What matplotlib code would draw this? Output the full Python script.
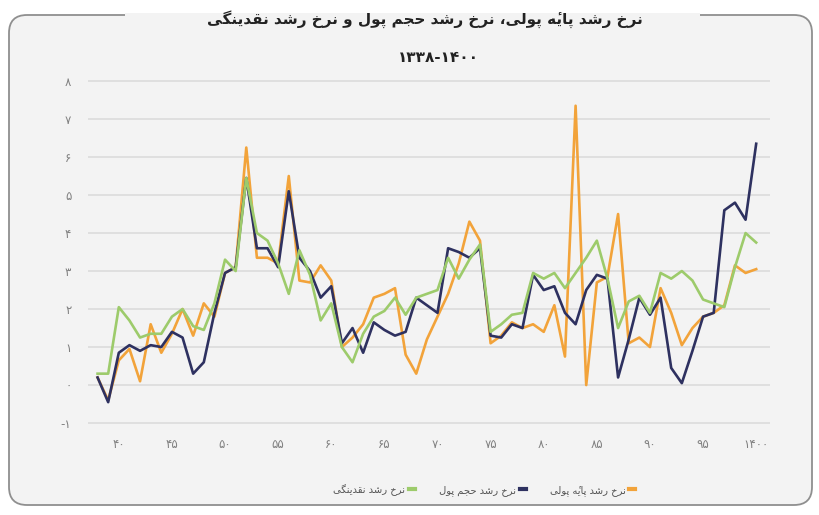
import matplotlib
matplotlib.use("Agg")
import matplotlib.pyplot as plt
from matplotlib.lines import Line2D
from matplotlib.patches import FancyBboxPatch, Rectangle
from matplotlib.transforms import IdentityTransform

# --- data ---
years = list(range(1338, 1401))

base_money = [0.2, -0.4, 0.65, 0.95, 0.1, 1.6, 0.85, 1.35, 2.0, 1.3,
              2.15, 1.8, 2.95, 3.1, 6.25, 3.35, 3.35, 3.2, 5.5, 2.75,
              2.7, 3.15, 2.75, 1.0, 1.25, 1.6, 2.3, 2.4, 2.55, 0.8,
              0.3, 1.2, 1.8, 2.4, 3.2, 4.3, 3.8, 1.1, 1.3, 1.65,
              1.5, 1.6, 1.4, 2.1, 0.75, 7.35, 0.0, 2.7, 2.85, 4.5,
              1.1, 1.25, 1.0, 2.55, 1.9, 1.05, 1.5, 1.8, 1.9, 2.1,
              3.15, 2.95, 3.05]

money_volume = [0.2, -0.45, 0.85, 1.05, 0.9, 1.05, 1.0, 1.4, 1.25, 0.3,
                0.6, 1.9, 2.95, 3.1, 5.45, 3.6, 3.6, 3.1, 5.1, 3.35,
                3.0, 2.3, 2.6, 1.1, 1.5, 0.85, 1.65, 1.45, 1.3, 1.4,
                2.3, 2.1, 1.9, 3.6, 3.5, 3.35, 3.6, 1.3, 1.25, 1.6,
                1.5, 2.9, 2.5, 2.6, 1.9, 1.6, 2.5, 2.9, 2.8, 0.2,
                1.2, 2.3, 1.85, 2.3, 0.45, 0.05, 0.9, 1.8, 1.9, 4.6,
                4.8, 4.35, 6.35]

liquidity = [0.3, 0.3, 2.05, 1.7, 1.25, 1.35, 1.35, 1.8, 2.0, 1.55,
             1.45, 2.15, 3.3, 3.0, 5.45, 4.0, 3.8, 3.2, 2.4, 3.55,
             2.9, 1.7, 2.15, 1.0, 0.6, 1.35, 1.8, 1.95, 2.3, 1.85,
             2.3, 2.4, 2.5, 3.35, 2.8, 3.3, 3.7, 1.4, 1.6, 1.85,
             1.9, 2.95, 2.8, 2.95, 2.55, 2.95, 3.35, 3.8, 2.8, 1.5,
             2.2, 2.35, 1.9, 2.95, 2.8, 3.0, 2.75, 2.25, 2.15, 2.05,
             3.1, 4.0, 3.75]

x_ticks = [1340, 1345, 1350, 1355, 1360, 1365, 1370, 1375, 1380, 1385, 1390, 1395, 1400]
y_ticks = [-1, 0, 1, 2, 3, 4, 5, 6, 7, 8]

title1 = "نرخ رشد پایه\u0654 پولی، نرخ رشد حجم پول و نرخ رشد نقدینگی"
title2 = "۱۳۳۸-۱۴۰۰"
lbl_base = "نرخ رشد پایه\u0654 پولی"
lbl_vol = "نرخ رشد حجم پول"
lbl_liq = "نرخ رشد نقدینگی"

c_base = "#F2A33A"
c_vol = "#2E3160"
c_liq = "#9DCB6B"

# --- minimal persian shaping (no bidi lib available) ---
FORMS = {
    'ا': ('\uFE8D', '\uFE8E', None, None),
    'پ': ('\uFB56', '\uFB57', '\uFB58', '\uFB59'),
    'ج': ('\uFE9D', '\uFE9E', '\uFE9F', '\uFEA0'),
    'ح': ('\uFEA1', '\uFEA2', '\uFEA3', '\uFEA4'),
    'خ': ('\uFEA5', '\uFEA6', '\uFEA7', '\uFEA8'),
    'د': ('\uFEA9', '\uFEAA', None, None),
    'ر': ('\uFEAD', '\uFEAE', None, None),
    'ش': ('\uFEB5', '\uFEB6', '\uFEB7', '\uFEB8'),
    'ق': ('\uFED5', '\uFED6', '\uFED7', '\uFED8'),
    'گ': ('\uFB92', '\uFB93', '\uFB94', '\uFB95'),
    'ل': ('\uFEDD', '\uFEDE', '\uFEDF', '\uFEE0'),
    'م': ('\uFEE1', '\uFEE2', '\uFEE3', '\uFEE4'),
    'ن': ('\uFEE5', '\uFEE6', '\uFEE7', '\uFEE8'),
    'و': ('\uFEED', '\uFEEE', None, None),
    'ه': ('\uFEE9', '\uFEEA', '\uFEEB', '\uFEEC'),
    'ی': ('\uFBFC', '\uFBFD', '\uFBFE', '\uFBFF'),
}
MARKS = '\u0654'


def fa(s):
    s = s.replace('\u064A', '\u06CC').replace('\u0643', '\u06A9')
    # group base letters with their combining marks
    clusters = []
    for ch in s:
        if ch in MARKS and clusters:
            clusters[-1] += ch
        else:
            clusters.append(ch)
    bases = [c[0] for c in clusters]
    out = []
    for i, cl in enumerate(clusters):
        ch = bases[i]
        if ch not in FORMS:
            out.append(cl)
            continue
        prev = bases[i - 1] if i > 0 else ''
        nxt = bases[i + 1] if i + 1 < len(bases) else ''
        join_prev = prev in FORMS and FORMS[prev][2] is not None
        join_next = FORMS[ch][2] is not None and nxt in FORMS
        iso, fin, ini, med = FORMS[ch]
        if join_prev and join_next:
            g = med
        elif join_prev:
            g = fin
        elif join_next:
            g = ini
        else:
            g = iso
        out.append(g + cl[1:])
    return ''.join(out[::-1])


def fa_num(n):
    return str(n).translate(str.maketrans('0123456789', '۰۱۲۳۴۵۶۷۸۹'))


plt.rcParams['font.family'] = ['DejaVu Sans']

W, H = 819, 515
fig = plt.figure(figsize=(W / 100, H / 100), dpi=100)
fig.patch.set_facecolor('white')

bg = '#F3F3F3'
# rounded frame (pixel coords), broken at the top behind the title
frame = FancyBboxPatch((9, 10), 803, 490, boxstyle="round,pad=0,rounding_size=18",
                       transform=IdentityTransform(), facecolor=bg,
                       edgecolor='#8F8F8F', linewidth=1.3, zorder=0)
fig.patches.append(frame)
gap = Rectangle((125, 498.2), 575, 3.6, transform=IdentityTransform(),
                facecolor=bg, edgecolor='none', zorder=0.5)
fig.patches.append(gap)

ax = fig.add_axes([88 / W, 1 - 428 / H, 682 / W, 350 / H])
ax.set_zorder(2)
ax.patch.set_alpha(0)

ax.plot(years, base_money, color=c_base, lw=1.9, zorder=3)
ax.plot(years, money_volume, color=c_vol, lw=1.9, zorder=4)
ax.plot(years, liquidity, color=c_liq, lw=1.9, zorder=5)

ax.set_xlim(1337.1, 1401.3)
ax.set_ylim(-1.13, 8.08)
ax.set_yticks(y_ticks)
ax.set_yticklabels([('-' + fa_num(-v)) if v < 0 else fa_num(v) for v in y_ticks])
ax.set_xticks(x_ticks)
ax.set_xticklabels([fa_num(v % 100) if v < 1400 else fa_num(v) for v in x_ticks])
ax.tick_params(length=0, labelsize=8.5, labelcolor='#808080')
ax.tick_params(axis='y', pad=12)
ax.tick_params(axis='x', pad=7)
ax.grid(axis='y', color='#DADADA', lw=1.1)
ax.set_axisbelow(True)
for sp in ax.spines.values():
    sp.set_visible(False)

fig.text(425 / W, 1 - 19 / H, fa(title1), ha='center', va='center',
         fontsize=11, fontweight='bold', color='#222222', zorder=3)
fig.text(438 / W, 1 - 58 / H, title2, ha='center', va='center',
         fontsize=11, fontweight='bold', color='#222222', zorder=3)

handles = [Line2D([], [], color=c_liq, lw=3),
           Line2D([], [], color=c_vol, lw=3),
           Line2D([], [], color=c_base, lw=3)]
leg = fig.legend(handles, [fa(lbl_liq), fa(lbl_vol), fa(lbl_base)],
                 loc='center', bbox_to_anchor=(484 / W, 1 - 490 / H), ncol=3,
                 frameon=False, markerfirst=False, handlelength=0.6,
                 columnspacing=2.4, handletextpad=0.4, fontsize=7.2,
                 labelcolor='#555555')
leg.set_zorder(3)

fig.savefig('out.png', dpi=100, facecolor='white')
